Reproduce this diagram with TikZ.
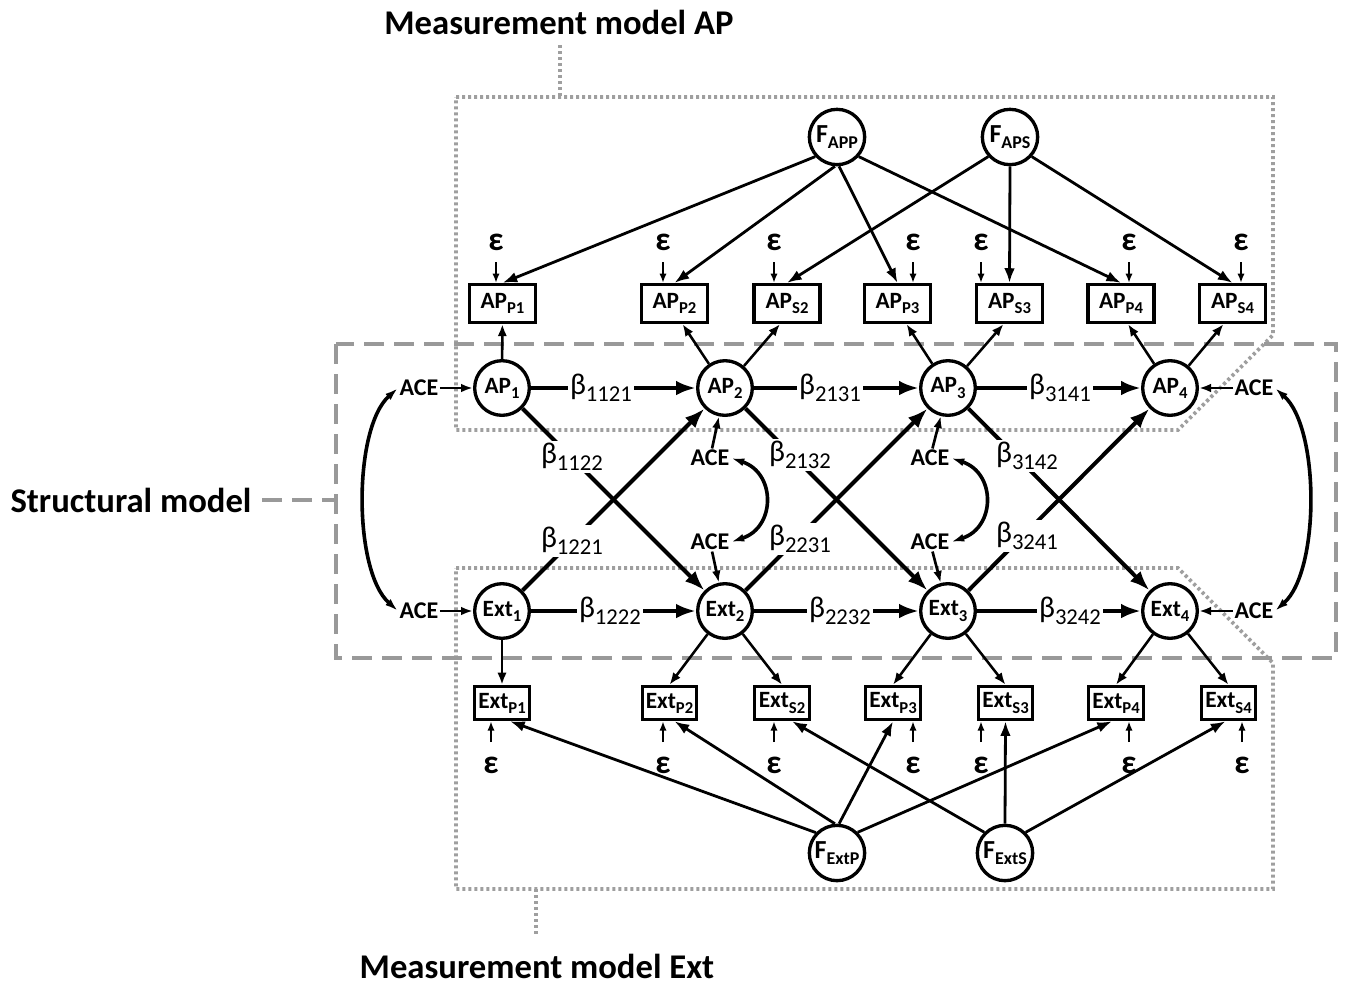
\documentclass[tikz,border=0pt]{standalone}
\usepackage{fontspec}
\setmainfont{Carlito}
\usetikzlibrary{arrows.meta,calc}
\definecolor{dashgray}{HTML}{999999}
\definecolor{dotgray}{HTML}{9F9F9F}
\newcommand{\lsub}[1]{\raisebox{-0.45ex}{\fontsize{12.5}{12.5}\selectfont #1}}
\newcommand{\fsub}[1]{\raisebox{-0.5ex}{\fontsize{13.5}{13.5}\selectfont #1}}
\newcommand{\betalab}[1]{{\fontsize{22.5}{22.5}\selectfont β}\raisebox{-5.5pt}{\fontsize{17}{17}\selectfont #1}}
\begin{document}
\begin{tikzpicture}[x=0.75pt,y=-0.75pt,
 lat/.style={circle,draw,fill=white,line width=2.5pt,minimum size=41pt,inner sep=0pt,font=\bfseries\fontsize{17.5}{17.5}\selectfont},
 fac/.style={lat,minimum size=41.5pt,font=\bfseries\fontsize{19.5}{19.5}\selectfont},
 apind/.style={draw,fill=white,line width=2.4pt,minimum width=49.5pt,minimum height=28.5pt,inner sep=0pt,font=\bfseries\fontsize{17.5}{17.5}\selectfont},
 extind/.style={apind,minimum width=41pt,minimum height=25pt},
 epsn/.style={inner sep=0pt,font=\bfseries\fontsize{25}{25}\selectfont},
 acen/.style={inner sep=1pt,font=\bfseries\fontsize{18}{18}\selectfont},
 blab/.style={fill=white,inner sep=1.5pt,font=\fontsize{22.5}{22.5}\selectfont},
 title/.style={inner sep=0pt,font=\bfseries\fontsize{26}{26}\selectfont},
 sarr/.style={line width=3pt,-{Latex[length=15pt,width=11pt]}},
 farr/.style={line width=2.1pt,-{Latex[length=11pt,width=8pt]}},
 iarr/.style={line width=1.9pt,-{Latex[length=9pt,width=7pt]}},
 earr/.style={line width=1.6pt,-{Latex[length=7pt,width=5.5pt]}},
 aarr/.style={line width=2pt,-{Latex[length=9pt,width=6.5pt]}},
 carr/.style={line width=2.7pt,{Latex[length=10pt,width=6pt]}-{Latex[length=10pt,width=6pt]}},
 dotbox/.style={dotgray,line width=2.7pt,dash pattern=on 2.3pt off 2.2pt},
 dashbox/.style={dashgray,line width=2.8pt,dash pattern=on 15pt off 7.5pt},
]
\useasboundingbox (0,0) rectangle (1345,986);

% group boxes
\draw[dotbox] (456,97) -- (1273,97) -- (1273,335) -- (1178,430) -- (456,430) -- cycle;
\draw[dotbox] (456,568) -- (1178,568) -- (1273,663) -- (1273,889) -- (456,889) -- cycle;
\draw[dashbox] (336,344) rectangle (1336,658);

% titles
\node[title] (tAP) at (559,22) {Measurement model AP};
\node[title] (tExt) at (537,966) {Measurement model Ext};
\node[title] (tStr) at (131,500) {Structural model};
\coordinate (cAPa) at (560,45);
\coordinate (cAPb) at (560,97);
\coordinate (cExta) at (536,889);
\coordinate (cExtb) at (536,935);
\coordinate (cStr) at (336,500);
\coordinate (cStra) at (262,500);
\draw[dotbox] (cAPa) -- (cAPb);
\draw[dotbox] (cExta) -- (cExtb);
\draw[dashbox] (cStra) -- (cStr);

% latent nodes
\node[lat] (AP1) at (502,388) {AP\lsub{1}};
\node[lat] (AP2) at (725,388) {AP\lsub{2}};
\node[lat] (AP3) at (948,388) {AP\lsub{3}};
\node[lat] (AP4) at (1170,388) {AP\lsub{4}};
\node[lat] (Ext1) at (502,611) {Ext\lsub{1}};
\node[lat] (Ext2) at (725,611) {Ext\lsub{2}};
\node[lat] (Ext3) at (948,611) {Ext\lsub{3}};
\node[lat] (Ext4) at (1170,611) {Ext\lsub{4}};
\node[fac] (FAPP) at (837,137) {F\fsub{APP}};
\node[fac] (FAPS) at (1010,137) {F\fsub{APS}};
\node[fac] (FExtP) at (837,853) {F\fsub{ExtP}};
\node[fac] (FExtS) at (1005,853) {F\fsub{ExtS}};

% indicators
\node[apind] (APP1) at (502.5,303.5) {AP\lsub{P1}};
\node[apind] (APP2) at (674.5,303.5) {AP\lsub{P2}};
\node[apind] (APS2) at (787,303.5) {AP\lsub{S2}};
\node[apind] (APP3) at (897.5,303.5) {AP\lsub{P3}};
\node[apind] (APS3) at (1009.5,303.5) {AP\lsub{S3}};
\node[apind] (APP4) at (1121,303.5) {AP\lsub{P4}};
\node[apind] (APS4) at (1232.5,303.5) {AP\lsub{S4}};
\node[extind] (EP1) at (502,703) {Ext\lsub{P1}};
\node[extind] (EP2) at (669.5,703) {Ext\lsub{P2}};
\node[extind] (ES2) at (782,703) {Ext\lsub{S2}};
\node[extind] (EP3) at (893,703) {Ext\lsub{P3}};
\node[extind] (ES3) at (1005.5,703) {Ext\lsub{S3}};
\node[extind] (EP4) at (1116,703) {Ext\lsub{P4}};
\node[extind] (ES4) at (1228.5,703) {Ext\lsub{S4}};

% ACE nodes
\node[acen] (aceL1) at (419,388) {ACE};
\node[acen] (aceL2) at (419,611) {ACE};
\node[acen] (aceR1) at (1254,388) {ACE};
\node[acen] (aceR2) at (1254,611) {ACE};
\node[acen] (aceM1) at (710,458) {ACE};
\node[acen] (aceM2) at (710,542) {ACE};
\node[acen] (aceM3) at (930,458) {ACE};
\node[acen] (aceM4) at (930,542) {ACE};

% epsilon nodes and arrows
\foreach \n/\x/\t in {1/496/APP1,2/663/APP2,3/774/APS2,4/913/APP3,5/981/APS3,6/1129/APP4,7/1241/APS4}{
  \node[epsn] (eA\n) at (\x,242) {ε};
  \draw[earr] ($(eA\n)+(0,20)$) -- (eA\n |- \t.north);
}
\foreach \n/\x/\t in {1/491/EP1,2/663/EP2,3/774/ES2,4/913/EP3,5/981/ES3,6/1129/EP4,7/1242/ES4}{
  \node[epsn] (eE\n) at (\x,765) {ε};
  \draw[earr] ($(eE\n)+(0,-23)$) -- (eE\n |- \t.south);
}

% factor loadings
\draw[farr] (FAPP.222) -- (APP1.north);
\draw[farr] (FAPP.266) -- (APP2.north);
\draw[farr] (FAPP.274) -- (APP3.north);
\draw[farr] (FAPP.-42) -- (APP4.north);
\draw[farr] (FAPS.222) -- (APS2.north);
\draw[farr] (FAPS.270) -- (APS3.north);
\draw[farr] (FAPS.-42) -- (APS4.north);
\draw[farr] (FExtP.136) -- ($(EP1.south)+(8,0)$);
\draw[farr] (FExtP.94) -- ($(EP2.south)+(5,0)$);
\draw[farr] (FExtP.86) -- (EP3.south);
\draw[farr] (FExtP.45) -- ($(EP4.south)+(-4,0)$);
\draw[farr] (FExtS.135) -- ($(ES2.south)+(10,0)$);
\draw[farr] (FExtS.90) -- (ES3.south);
\draw[farr] (FExtS.45) -- ($(ES4.south)+(-3,0)$);

% latent to indicators
\draw[iarr] (AP1) -- (APP1);
\draw[iarr] (AP2) -- ($(APP2.south)+(8,0)$);
\draw[iarr] (AP2) -- ($(APS2.south)+(-7,0)$);
\draw[iarr] (AP3) -- ($(APP3.south)+(9,0)$);
\draw[iarr] (AP3) -- ($(APS3.south)+(-6,0)$);
\draw[iarr] (AP4) -- ($(APP4.south)+(7,0)$);
\draw[iarr] (AP4) -- ($(APS4.south)+(-9,0)$);
\draw[iarr] (Ext1) -- (EP1);
\draw[iarr] (Ext2) -- (EP2.north);
\draw[iarr] (Ext2) -- (ES2.north);
\draw[iarr] (Ext3) -- (EP3.north);
\draw[iarr] (Ext3) -- (ES3.north);
\draw[iarr] (Ext4) -- (EP4.north);
\draw[iarr] (Ext4) -- (ES4.north);

% ACE arrows
\draw[aarr] (aceL1) -- (AP1);
\draw[aarr] (aceL2) -- (Ext1);
\draw[aarr] (aceR1) -- (AP4);
\draw[aarr] (aceR2) -- (Ext4);
\draw[aarr] (aceM1) -- (AP2);
\draw[aarr] (aceM2) -- (Ext2);
\draw[aarr] (aceM3) -- (AP3);
\draw[aarr] (aceM4) -- (Ext3);
\draw[carr] (aceL1.west) .. controls +(-45,40) and +(-45,-40) .. (aceL2.west);
\draw[carr] (aceR1.east) .. controls +(45,40) and +(45,-40) .. (aceR2.east);
\draw[carr] (aceM1.east) .. controls +(45,15) and +(45,-15) .. (aceM2.east);
\draw[carr] (aceM3.east) .. controls +(45,15) and +(45,-15) .. (aceM4.east);

% structural paths
\draw[sarr] (AP1) -- (AP2);
\draw[sarr] (AP2) -- (AP3);
\draw[sarr] (AP3) -- (AP4);
\draw[sarr] (Ext1) -- (Ext2);
\draw[sarr] (Ext2) -- (Ext3);
\draw[sarr] (Ext3) -- (Ext4);
\draw[sarr] (AP1) -- (Ext2);
\draw[sarr] (AP2) -- (Ext3);
\draw[sarr] (AP3) -- (Ext4);
\draw[sarr] (Ext1) -- (AP2);
\draw[sarr] (Ext2) -- (AP3);
\draw[sarr] (Ext3) -- (AP4);

% path labels
\node[blab] (b1121) at (601,388) {\betalab{1121}};
\node[blab] (b2131) at (830,388) {\betalab{2131}};
\node[blab] (b3141) at (1060,388) {\betalab{3141}};
\node[blab] (b1222) at (610,611) {\betalab{1222}};
\node[blab] (b2232) at (840,611) {\betalab{2232}};
\node[blab] (b3242) at (1070,611) {\betalab{3242}};
\node[blab] (b1122) at (572,457) {\betalab{1122}};
\node[blab] (b2132) at (800,455) {\betalab{2132}};
\node[blab] (b3142) at (1027,456) {\betalab{3142}};
\node[blab] (b1221) at (572,541) {\betalab{1221}};
\node[blab] (b2231) at (800,539) {\betalab{2231}};
\node[blab] (b3241) at (1027,536) {\betalab{3241}};
\end{tikzpicture}
\end{document}
